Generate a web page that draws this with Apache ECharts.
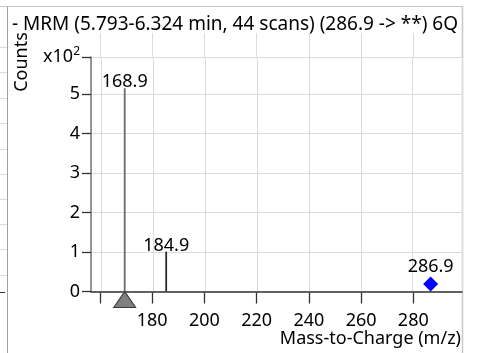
<!DOCTYPE html>
<html><head><meta charset="utf-8">
<script src="https://cdn.jsdelivr.net/npm/echarts@6/dist/echarts.min.js"></script>
<style>html,body{margin:0;padding:0;background:#fff}#c{width:480px;height:353px}</style>
</head><body><div id="c"></div>
<script>
const titleText = '- MRM (5.793-6.324 min, 44 scans) (286.9 -> **) 6Q1';
const peakMz = [168.9, 184.9];
const peakCounts = [515, 101];
const peakColors = ['#6a6a6a', '#2a2a2a'];
const precursorMz = [286.9];
const precursorCounts = [19];
const markerMz = [168.9];
const xLabelValues = [180, 200, 220, 240, 260, 280];
const xName = 'Mass-to-Charge (m/z)';
const yName = 'Counts';
const F = "'Noto Sans',sans-serif";

const chart = echarts.init(document.getElementById('c'), null, {renderer: 'canvas'});
const stubYs = [47, 72, 98, 123, 149, 174, 199, 224, 249, 275];
const graphics = [
  {type: 'line', shape: {x1: 0, y1: 6.5, x2: 463, y2: 6.5}, style: {stroke: '#c8c8c8', lineWidth: 1}, silent: true},
  {type: 'line', shape: {x1: 7.5, y1: 6.5, x2: 7.5, y2: 353}, style: {stroke: '#a0a0a0', lineWidth: 1}, silent: true},
  {type: 'line', shape: {x1: 462.5, y1: 6.5, x2: 462.5, y2: 353}, style: {stroke: '#c8c8c8', lineWidth: 1.5}, silent: true},
  {type: 'line', shape: {x1: 0, y1: 292.5, x2: 5, y2: 292.5}, style: {stroke: '#333', lineWidth: 1}, silent: true},
  {type: 'text', x: 22, y: 62, rotation: Math.PI / 2, style: {text: yName, font: "18px " + F, fill: '#000', align: 'center', verticalAlign: 'middle'}}
];
stubYs.forEach(y => graphics.push({type: 'line', shape: {x1: 0, y1: y + 0.5, x2: 7, y2: y + 0.5}, style: {stroke: '#dadada', lineWidth: 1}, silent: true}));

chart.setOption({
  animation: false,
  backgroundColor: '#fff',
  textStyle: {fontFamily: F},
  title: {
    text: titleText, left: 7, top: 10,
    textStyle: {fontFamily: F, fontSize: 19, fontWeight: 'normal', color: '#000', width: 454, overflow: 'truncate', ellipsis: ''}
  },
  graphic: graphics,
  grid: [
    {left: 91, right: 18, top: 57, bottom: 61.5, containLabel: false},
    {left: 100, right: 66.7, top: 33, height: 24, containLabel: false},
    {left: 100, right: 66.7, top: 291, height: 1.5, containLabel: false}
  ],
  xAxis: [
    {
      type: 'value', gridIndex: 0, min: 155.9, max: 299, splitNumber: 7,
      axisLine: {show: true, onZero: false, lineStyle: {color: '#333', width: 1.5}},
      axisTick: {show: false},
      axisLabel: {show: false},
      splitLine: {show: true, lineStyle: {color: '#dcdcdc', width: 1}},
      name: xName, nameLocation: 'end', nameGap: -1,
      nameTextStyle: {fontSize: 18, color: '#000', fontFamily: F, align: 'right', verticalAlign: 'top', padding: [38, 0, 0, 0]}
    },
    {
      type: 'value', gridIndex: 1, min: 160, max: 280, interval: 20,
      axisLine: {show: false}, axisTick: {show: false}, axisLabel: {show: false},
      splitLine: {show: true, lineStyle: {color: '#dcdcdc', width: 1}}
    },
    {
      type: 'value', gridIndex: 2, min: 160, max: 280, interval: 20,
      axisLine: {show: false},
      axisTick: {show: true, length: 11, lineStyle: {color: '#333', width: 1.3}},
      axisLabel: {fontSize: 18, color: '#000', margin: 19, fontFamily: F,
        formatter: v => xLabelValues.indexOf(Math.round(v)) >= 0 ? String(Math.round(v)) : ''},
      splitLine: {show: false}
    }
  ],
  yAxis: [
    {
      type: 'value', gridIndex: 0, min: 0, max: 594, interval: 100,
      axisLine: {show: true, lineStyle: {color: '#777', width: 1.5}},
      axisTick: {show: true, length: 9, lineStyle: {color: '#333', width: 1.3}},
      axisLabel: {fontSize: 18, color: '#000', margin: 11, fontFamily: F,
        formatter: v => (v % 100 === 0 ? String(v / 100) : '{a|x10}{s|2}'),
        rich: {
          a: {fontSize: 18, fontFamily: F, color: '#000'},
          s: {fontSize: 12, fontFamily: F, color: '#000', padding: [0, 0, 10, 0]}
        }},
      splitLine: {show: true, lineStyle: {color: '#dcdcdc', width: 1}}
    },
    {type: 'value', gridIndex: 1, min: 0, max: 1, show: false, splitLine: {show: false}},
    {type: 'value', gridIndex: 2, min: 0, max: 1, show: false, splitLine: {show: false}}
  ],
  series: [
    {
      type: 'bar', xAxisIndex: 0, yAxisIndex: 0, barWidth: 1.8,
      data: peakMz.map((x, i) => ({value: [x, peakCounts[i]], itemStyle: {color: peakColors[i]}})),
      label: {show: true, position: 'top', distance: -3, fontSize: 18, color: '#000', fontFamily: F,
        formatter: p => p.value[0].toFixed(1)}
    },
    {
      type: 'scatter', xAxisIndex: 0, yAxisIndex: 0, clip: false, z: 5,
      symbol: 'triangle', symbolSize: [22, 16], symbolOffset: [0, 8],
      itemStyle: {color: '#7f7f7f', borderColor: '#3a3a3a', borderWidth: 1, opacity: 1},
      data: markerMz.map(x => [x, 0])
    },
    {
      type: 'scatter', xAxisIndex: 0, yAxisIndex: 0, clip: false, z: 5,
      symbol: 'diamond', symbolSize: [15, 15],
      itemStyle: {color: '#0000ff', opacity: 1},
      data: precursorMz.map((x, i) => [x, precursorCounts[i]]),
      label: {show: true, position: 'top', distance: 1, fontSize: 18, color: '#000', fontFamily: F,
        formatter: p => p.value[0].toFixed(1)}
    }
  ]
});
</script></body></html>
